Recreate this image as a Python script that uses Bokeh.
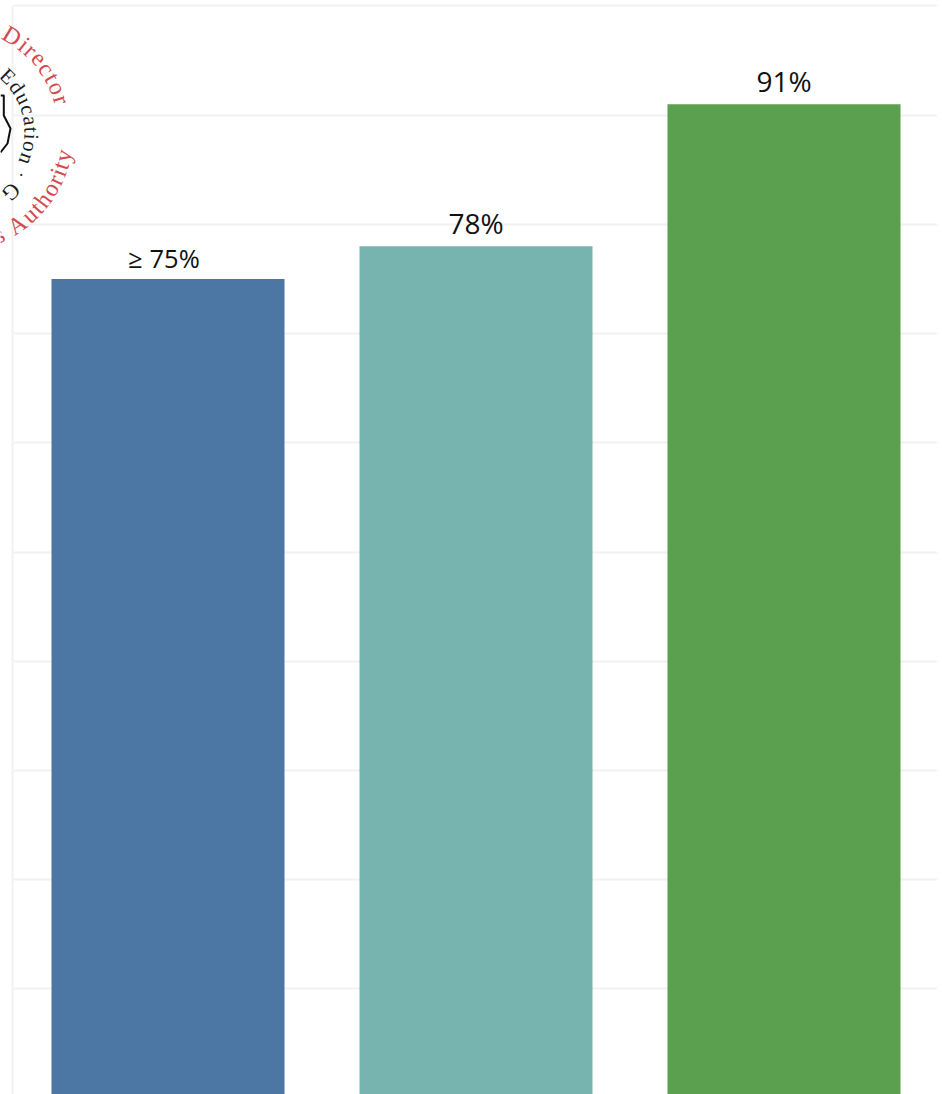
import math
from bokeh.core.properties import value
from bokeh.embed import file_html
from bokeh.models import ColumnDataSource, FixedTicker, Range1d
from bokeh.plotting import figure
from bokeh.resources import INLINE

categories = ["Target", "Group", "Overall"]
values = [75, 78, 91]
bar_colors = ["#4c77a5", "#78b4af", "#5aa04f"]
value_labels = ["≥ 75%", "78%", "91%"]
label_sizes = ["25.5px", "28px", "28px"]
label_offsets = [-21, -23, -23]
label_shifts = [-4, 0, 0]
grid_values = [10, 20, 30, 40, 50, 60, 70, 80, 90, 100]

WIDTH, HEIGHT = 942, 1094
FRAME_RIGHT = 937
BAND, FIRST_CENTRE = 308, 167.5
Y_LOW, Y_HIGH = 0.34, 100.5
GRID_COLOR = "#f1f1f1"

p = figure(
    width=WIDTH, height=HEIGHT, output_backend="svg", toolbar_location=None,
    x_range=Range1d(-FIRST_CENTRE / BAND, (FRAME_RIGHT - FIRST_CENTRE) / BAND),
    y_range=Range1d(Y_LOW, Y_HIGH),
    min_border_left=0, min_border_right=WIDTH - FRAME_RIGHT, min_border_top=0, min_border_bottom=0,
)
p.xaxis.visible = False
p.yaxis.visible = False
p.xgrid.visible = False
p.outline_line_color = None
p.ygrid.ticker = FixedTicker(ticks=grid_values)
p.ygrid.grid_line_color = GRID_COLOR
p.ygrid.grid_line_width = 2


def to_x(px):
    return (px - FIRST_CENTRE) / BAND


def to_y(py):
    return Y_HIGH - py / HEIGHT * (Y_HIGH - Y_LOW)


# Plot area starts a little inside the page: mask the grid to its left, then draw the axis line
p.quad(left=to_x(0), right=to_x(13), bottom=Y_LOW, top=Y_HIGH, color="white", line_width=0)
p.quad(left=to_x(11), right=to_x(13), bottom=Y_LOW, top=to_y(5), color=GRID_COLOR, line_width=0)

source = ColumnDataSource(dict(
    pos=list(range(len(categories))), cat=categories, val=values, color=bar_colors,
    text=value_labels, size=label_sizes, off=label_offsets, shift=label_shifts,
))
p.vbar(x="pos", top="val", bottom=0, width=233 / BAND, color="color", line_width=0, source=source)
p.text(x="pos", y="val", text="text", text_font_size="size", y_offset="off", x_offset="shift", source=source,
       text_align="center", text_baseline="alphabetic", text_color="#111111",
       text_font=value("Open Sans"))

# Seal in the upper corner: lettering set around a circle
SEAL_X, SEAL_Y = -47, 132
RED = "#d44a4c"
INK = "#1c1c1c"
ADVANCE = {"l": .28, " ": .25, "i": .28, "t": .28, "r": .33, "c": .44, "e": .44, "s": .39, "a": .44,
           "D": .72, "A": .72, "E": .61, "G": .72, "u": .5, "h": .5, "o": .5, "n": .5, "d": .5, "y": .5}
rows = dict(x=[], y=[], text=[], angle=[], size=[], color=[])


def arc_text(text, radius, first_deg, last_deg, size, color, tops_out=True):
    """Spread the letters of text between two angles of the seal circle."""
    widths = [ADVANCE.get(ch, .5) for ch in text]
    centres = [sum(widths[:i]) + widths[i] / 2 for i in range(len(text))]
    span = (centres[-1] - centres[0]) or 1
    for ch, c in zip(text, centres):
        deg = first_deg + (c - centres[0]) / span * (last_deg - first_deg)
        if ch == " ":
            continue
        a = math.radians(deg)
        rows["x"].append(to_x(SEAL_X + radius * math.cos(a)))
        rows["y"].append(to_y(SEAL_Y + radius * math.sin(a)))
        rows["text"].append(ch)
        rows["angle"].append(math.radians(-(deg + 90) if tops_out else -(deg - 90)))
        rows["size"].append(size)
        rows["color"].append(color)


arc_text("l Director", 113, -70, -17, "24px", RED)
arc_text("s Authority", 112, 66, 12, "24px", RED, tops_out=False)
arc_text("Education", 78, -46, 20, "21px", INK)
arc_text("·", 80, -60, -60, "18px", INK)
arc_text("·", 80, 32, 32, "18px", INK)
arc_text("G", 83, 46, 46, "22px", INK)

p.text(x="x", y="y", text="text", angle="angle", text_font_size="size", text_color="color",
       text_font=value("Liberation Serif"), text_align="center", text_baseline="middle",
       source=ColumnDataSource(rows))

outline_x = [0, 3.3, 3.3, 10, 7, 0]
outline_y = [95, 95, 115, 128, 143, 152]
p.line([to_x(v) for v in outline_x], [to_y(v) for v in outline_y], line_color="#111111", line_width=2)

open("out.html", "w").write(file_html(p, INLINE))
